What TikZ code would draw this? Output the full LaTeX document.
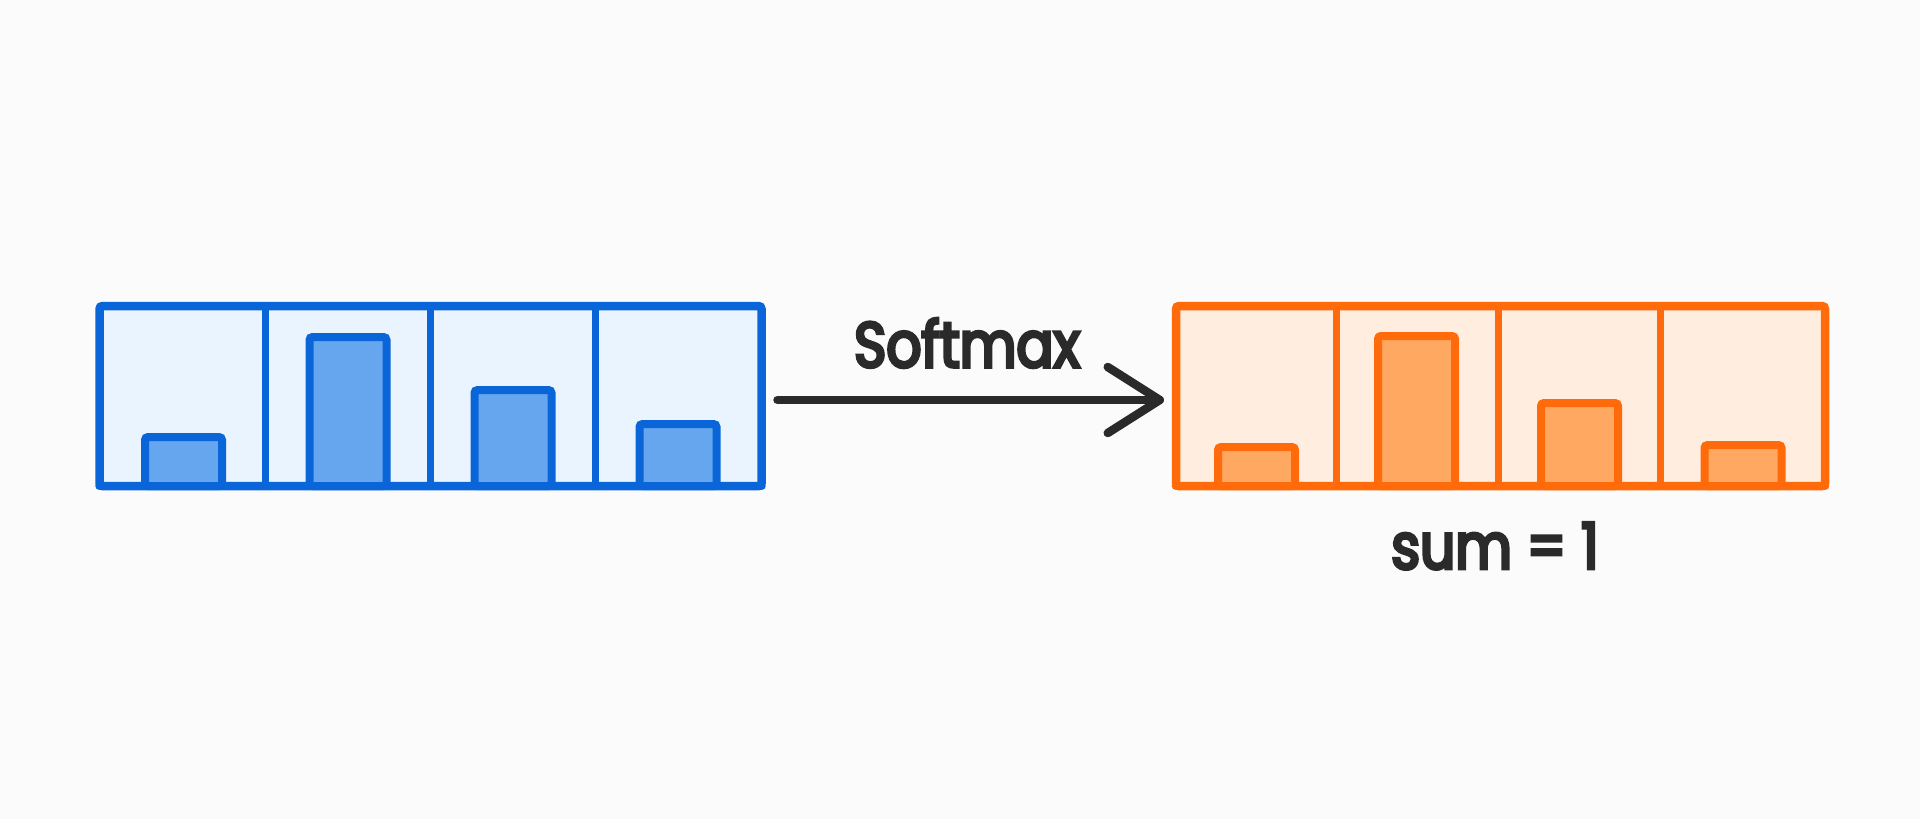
\documentclass[tikz,border=0pt]{standalone}
\usepackage{fontspec}
\setmainfont{Poppins}
\newfontfamily\hand{Poppins}[FakeStretch=0.86, FakeBold=5]
\usetikzlibrary{arrows.meta}
\definecolor{bgc}{HTML}{FBFBFB}
\definecolor{bstroke}{HTML}{0A66D8}
\definecolor{bfill}{HTML}{EAF4FE}
\definecolor{bbar}{HTML}{66A6EE}
\definecolor{ostroke}{HTML}{FF6A0A}
\definecolor{ofill}{HTML}{FFEEDF}
\definecolor{obar}{HTML}{FFA862}
\definecolor{ink}{HTML}{2A2A2A}
\begin{document}
\begin{tikzpicture}[x=1pt,y=-1pt,
  outerbox/.style={draw=#1stroke, fill=#1fill, line width=8.5pt, rounded corners=3pt, inner sep=0pt, outer sep=0pt},
  divider/.style={draw=#1stroke, line width=7pt},
  barbox/.style={draw=#1stroke, fill=#1bar, line width=8pt, rounded corners=3pt, inner sep=0pt, outer sep=0pt, anchor=south, minimum width=77pt},
  label/.style={text=ink, font=\hand\fontsize{64}{70}\selectfont, inner sep=0pt},
  conn/.style={draw=ink, line width=8.5pt, line cap=round, -{Straight Barb[length=52pt,width=66pt,round]}}
]
\fill[bgc] (0,0) rectangle (1920,819);
\useasboundingbox (0,0) rectangle (1920,819);

% left box
\node[outerbox=b, minimum width=662pt, minimum height=180pt] (L) at (430.5,396) {};
\foreach \x in {265,430,595}{\draw[divider=b] (\x,306) -- (\x,486);}
\node[barbox=b, minimum height=49pt]  (Lb1) at (183.5,486) {};
\node[barbox=b, minimum height=149pt] (Lb2) at (348,486) {};
\node[barbox=b, minimum height=96pt]  (Lb3) at (513,486) {};
\node[barbox=b, minimum height=62pt]  (Lb4) at (678,486) {};
\draw[bstroke, line width=8.5pt, line cap=round] (L.south west) -- (L.south east);

% right box
\node[outerbox=o, minimum width=649pt, minimum height=180pt] (R) at (1500.5,396) {};
\foreach \x in {1336,1498,1660}{\draw[divider=o] (\x,306) -- (\x,486);}
\node[barbox=o, minimum height=39pt]  (Rb1) at (1256.5,486) {};
\node[barbox=o, minimum height=150pt] (Rb2) at (1416.5,486) {};
\node[barbox=o, minimum height=83pt]  (Rb3) at (1579.5,486) {};
\node[barbox=o, minimum height=41pt]  (Rb4) at (1743,486) {};
\draw[ostroke, line width=8.5pt, line cap=round] (R.south west) -- (R.south east);

% arrow
\draw[conn] ([yshift=-4pt,xshift=16pt]L.east) -- ([yshift=-4pt,xshift=-12pt]R.west);
\node[label] (sm) at (967,343) {Softmax};
\node[label] (sum) at (1495,546) {sum = 1};
\end{tikzpicture}
\end{document}
